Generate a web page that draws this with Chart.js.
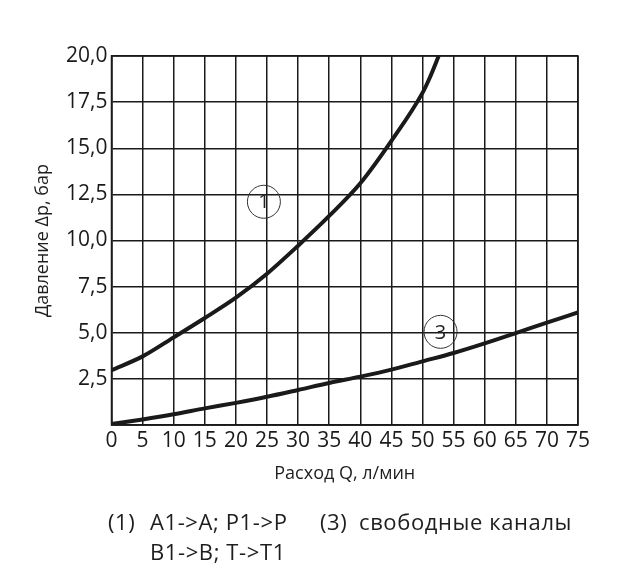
<!DOCTYPE html>
<html>
<head>
<meta charset="utf-8">
<script src="https://cdn.jsdelivr.net/npm/chart.js@4.4.1/dist/chart.umd.min.js"></script>
<style>
  html, body { margin: 0; padding: 0; background: #fff; }
  #wrap { position: relative; width: 618px; height: 586px; }
  canvas { position: absolute; left: 0; top: 0; }
  .leg { position: absolute; font-family: "Open Sans", sans-serif; font-size: 22px; line-height: 30px; color: #1e1e1e; white-space: pre; letter-spacing: 0.6px; }
</style>
</head>
<body>
<div id="wrap">
  <canvas id="c" width="618" height="586"></canvas>
  <div class="leg" style="left:108px; top:506px;">(1)</div>
  <div class="leg" style="left:150px; top:506px;">A1-&gt;A; P1-&gt;P</div>
  <div class="leg" style="left:320px; top:506px;">(3)</div>
  <div class="leg" style="left:359px; top:506px;">свободные каналы</div>
  <div class="leg" style="left:150px; top:536px;">B1-&gt;B; T-&gt;T1</div>
</div>
<script>
// Data
const xTicksMax = 75;
const yTicksMax = 20;
const curve1X = [0, 5, 10, 15, 20, 25, 30, 35, 40, 45, 50, 51.2, 52.6];
const curve1Y = [2.97, 3.72, 4.75, 5.8, 6.9, 8.2, 9.72, 11.33, 13.1, 15.4, 18.0, 18.85, 20.0];
const curve3X = [0, 5, 10, 15, 20, 25, 30, 35, 40, 45, 50, 55, 60, 65, 70, 75];
const curve3Y = [0.05, 0.3, 0.58, 0.9, 1.2, 1.53, 1.9, 2.28, 2.62, 3.0, 3.45, 3.9, 4.42, 4.98, 5.55, 6.1];
const markerText = ['1', '3'];
const markerX = [24.5, 52.9];
const markerY = [12.1, 5.05];

const toPts = (xs, ys) => xs.map((x, i) => ({x: x, y: ys[i]}));
const INK = '#1a1a1a';

const markerPlugin = {
  id: 'markers',
  afterDatasetsDraw(chart) {
    const {ctx, scales} = chart;
    ctx.save();
    markerText.forEach((t, i) => {
      const px = scales.x.getPixelForValue(markerX[i]);
      const py = scales.y.getPixelForValue(markerY[i]);
      ctx.beginPath();
      ctx.arc(px, py, 16.5, 0, Math.PI * 2);
      ctx.lineWidth = 1;
      ctx.strokeStyle = '#333';
      ctx.stroke();
      ctx.fillStyle = '#222';
      ctx.font = '20px "Open Sans"';
      ctx.textAlign = 'center';
      ctx.textBaseline = 'middle';
      ctx.fillText(t, px, py + 1);
    });
    ctx.restore();
  }
};

new Chart(document.getElementById('c'), {
  type: 'line',
  data: {
    datasets: [
      { label: '(1)', data: toPts(curve1X, curve1Y), borderColor: INK, borderWidth: 4, pointRadius: 0, cubicInterpolationMode: 'monotone', fill: false },
      { label: '(3)', data: toPts(curve3X, curve3Y), borderColor: INK, borderWidth: 4, pointRadius: 0, cubicInterpolationMode: 'monotone', fill: false }
    ]
  },
  options: {
    responsive: false,
    animation: false,
    devicePixelRatio: 1,
    layout: { padding: { left: 0, top: 56, right: 40, bottom: 96 } },
    plugins: { legend: { display: false }, tooltip: { enabled: false } },
    scales: {
      x: {
        type: 'linear', min: 0, max: xTicksMax,
        ticks: { stepSize: 5, color: INK, font: { family: 'Open Sans', size: 21 }, padding: 3, maxRotation: 0, autoSkip: false },
        grid: { color: INK, lineWidth: 1.5, drawTicks: false },
        border: { color: INK, width: 1.5 },
        title: { display: true, text: 'Расход Q, л/мин', color: '#1e1e1e', font: { family: 'Open Sans', size: 18 }, padding: { top: 0, bottom: 5 } },
        afterFit(s) { s.height = 65; }
      },
      y: {
        type: 'linear', min: 0, max: yTicksMax,
        ticks: { stepSize: 2.5, color: INK, font: { family: 'Open Sans', size: 21 }, padding: 4,
          callback: v => v === 0 ? '' : v.toFixed(1).replace('.', ',') },
        grid: { color: INK, lineWidth: 1.5, drawTicks: false },
        border: { color: INK, width: 1.5 },
        title: { display: true, text: 'Давление Δр, бар', color: '#1e1e1e', font: { family: 'Open Sans', size: 18 }, padding: { top: 32, bottom: 0 } },
        afterFit(s) { s.width = 111.5; }
      }
    }
  },
  plugins: [markerPlugin, {
    id: 'frame',
    afterDraw(chart) {
      const {ctx, chartArea: a} = chart;
      ctx.save();
      ctx.strokeStyle = INK; ctx.lineWidth = 1.5;
      ctx.strokeRect(a.left, a.top, a.right - a.left, a.bottom - a.top);
      ctx.restore();
    }
  }]
});
</script>
</body>
</html>
